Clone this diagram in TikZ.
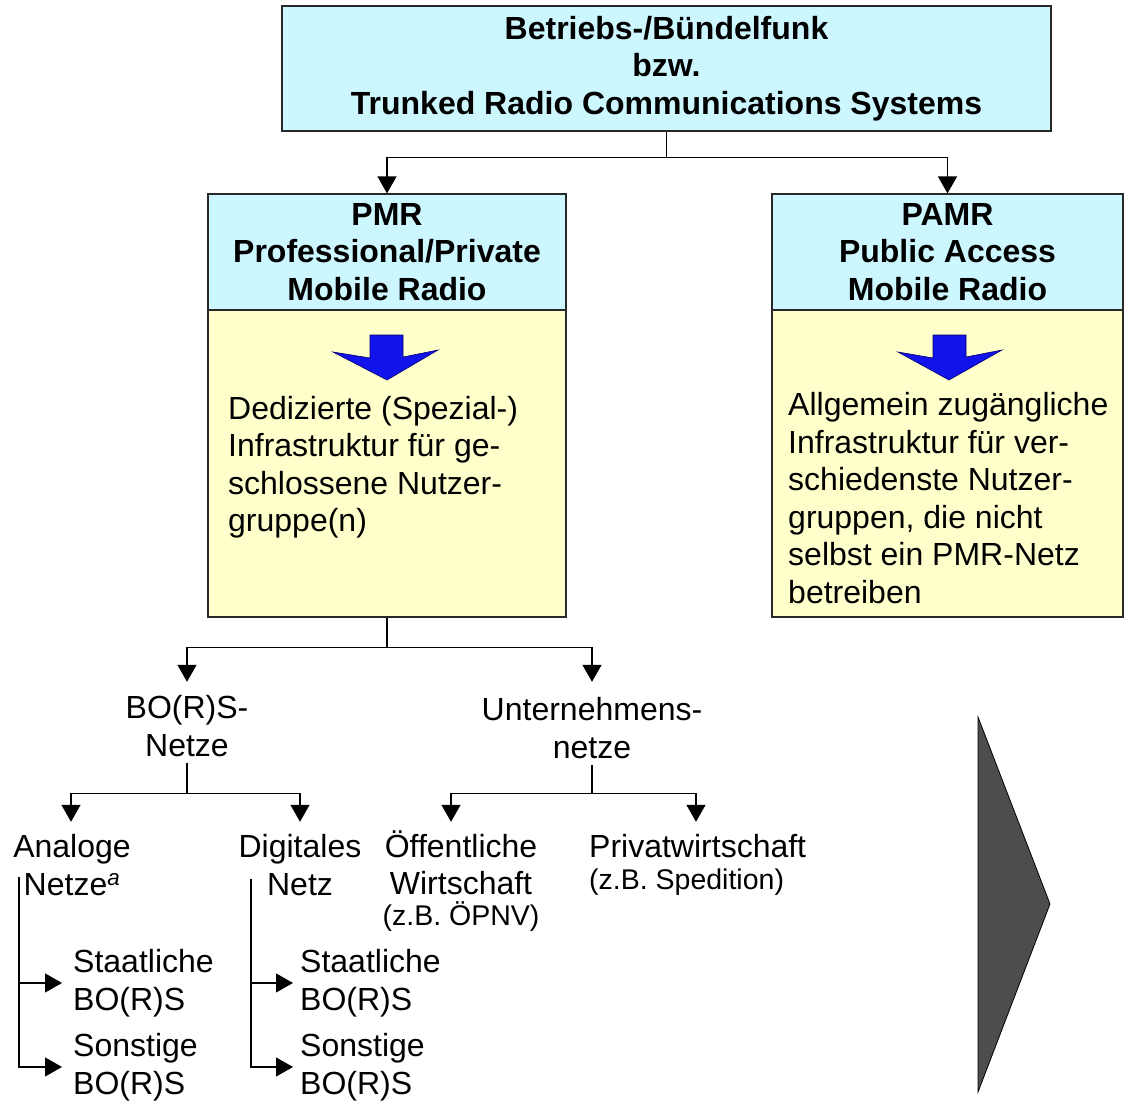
\documentclass[tikz,border=0pt]{standalone}
\usepackage{fontspec}
\setmainfont{Liberation Sans}
\usetikzlibrary{arrows.meta}
\definecolor{hdr}{RGB}{204,247,255}
\definecolor{bdy}{RGB}{255,255,204}
\definecolor{bluearr}{RGB}{18,18,235}
\definecolor{bluedge}{RGB}{0,0,110}
\definecolor{tri}{RGB}{77,77,77}
\definecolor{edge}{RGB}{40,40,40}
\begin{document}
\begin{tikzpicture}[x=1pt,y={(0pt,-1pt)},
  every node/.style={font=\fontsize{32}{37.5}\selectfont, inner sep=0pt},
  hbox/.style={draw=edge, line width=1.2pt, fill=hdr, align=center, font=\fontsize{32}{37.5}\selectfont\bfseries},
  bbox/.style={draw=edge, line width=1.2pt, fill=bdy},
  ln/.style={line width=1.2pt, draw=black},
  arr/.style={ln, -{Triangle[length=17pt,width=19pt]}},
  lbl/.style={align=center, anchor=base}]
\useasboundingbox (0,0) rectangle (1124,1103);

% boxes
\node[hbox, minimum width=769pt, minimum height=125pt] (top) at (666.5,68.5)
  {Betriebs-/Bündelfunk\\bzw.\\Trunked Radio Communications Systems};
\node[bbox, minimum width=358pt, minimum height=307pt] (pmrb) at (387,463.5) {};
\node[hbox, minimum width=358pt, minimum height=116pt] (pmrh) at (387,252)
  {PMR\\Professional/Private\\Mobile Radio};
\node[bbox, minimum width=351pt, minimum height=307pt] (pamrb) at (947.5,463.5) {};
\node[hbox, minimum width=351pt, minimum height=116pt] (pamrh) at (947.5,252)
  {PAMR\\Public Access\\Mobile Radio};

% blue arrows
\filldraw[fill=bluearr, draw=bluedge, line width=0.6pt]
  (370,335) -- (403,335) -- (403,357) -- (438,350) -- (387,380) -- (333,352) -- (370,358) -- cycle;
\filldraw[fill=bluearr, draw=bluedge, line width=0.6pt]
  (933,335) -- (966,335) -- (966,357) -- (1002,350) -- (949,380) -- (898,352) -- (933,358) -- cycle;

% body texts (base = last line)
\node[anchor=base west, align=left] (pmrt) at (228,531.5)
  {Dedizierte (Spezial-)\\Infrastruktur für ge-\\schlossene Nutzer-\\gruppe(n)};
\node[anchor=base west, align=left] (pamrt) at (788,603)
  {Allgemein zugängliche\\Infrastruktur für ver-\\schiedenste Nutzer-\\gruppen, die nicht\\selbst ein PMR-Netz\\betreiben};

% tree labels (base = last line)
\node[lbl, text height=74pt, text depth=7pt] (bors) at (187,756) {BO(R)S-\\Netze};
\node[lbl, text height=76pt, text depth=7pt] (unt) at (592,758) {Unternehmens-\\netze};
\node[lbl, text height=73pt] (ana) at (72,895) {Analoge\\Netze\textsuperscript{\itshape a}};
\node[lbl, text height=73pt] (dig) at (300,895) {Digitales\\Netz};
\node[lbl, text height=103pt] (oef) at (461,925) {Öffentliche\\Wirtschaft\\[-7pt]{\fontsize{28.5}{32}\selectfont (z.B. ÖPNV)}};
\node[anchor=base west, align=left, text height=67pt] (priv) at (589,889) {Privatwirtschaft\\[-6pt]{\fontsize{28.5}{32}\selectfont (z.B. Spedition)}};

\node[anchor=base west, align=left] (st1) at (73,1010) {Staatliche\\BO(R)S};
\node[anchor=base west, align=left] (so1) at (73,1094) {Sonstige\\BO(R)S};
\node[anchor=base west, align=left] (st2) at (300,1010) {Staatliche\\BO(R)S};
\node[anchor=base west, align=left] (so2) at (300,1094) {Sonstige\\BO(R)S};

\coordinate (lbA) at (19,877);
\coordinate (lbB) at (251,879);

% connectors
\draw[arr] (top.south) -- ++(0,26) -| (pmrh.north);
\draw[arr] (top.south) -- ++(0,26) -| (pamrh.north);
\draw[arr] (pmrb.south) -- ++(0,30) -| (bors.north);
\draw[arr] (pmrb.south) -- ++(0,30) -| (unt.north);
\draw[arr] (bors.south) -- ++(0,30) -| (ana.north -| 71,0);
\draw[arr] (bors.south) -- ++(0,30) -| (dig.north);
\draw[arr] (unt.south) -- ++(0,28) -| (oef.north -| 451,0);
\draw[arr] (unt.south) -- ++(0,28) -| (priv.north -| 696,0);

\draw[arr, shorten >=11pt] (lbA) |- (so1.west);
\draw[arr, shorten >=11pt] (lbA |- st1.west) -- (st1.west);
\draw[arr, shorten >=7pt] (lbB) |- (so2.west);
\draw[arr, shorten >=7pt] (lbB |- st2.west) -- (st2.west);

% grey triangle
\filldraw[fill=tri, draw=black, line width=0.8pt] (978,717) -- (1050,904) -- (978,1092) -- cycle;
\end{tikzpicture}
\end{document}
